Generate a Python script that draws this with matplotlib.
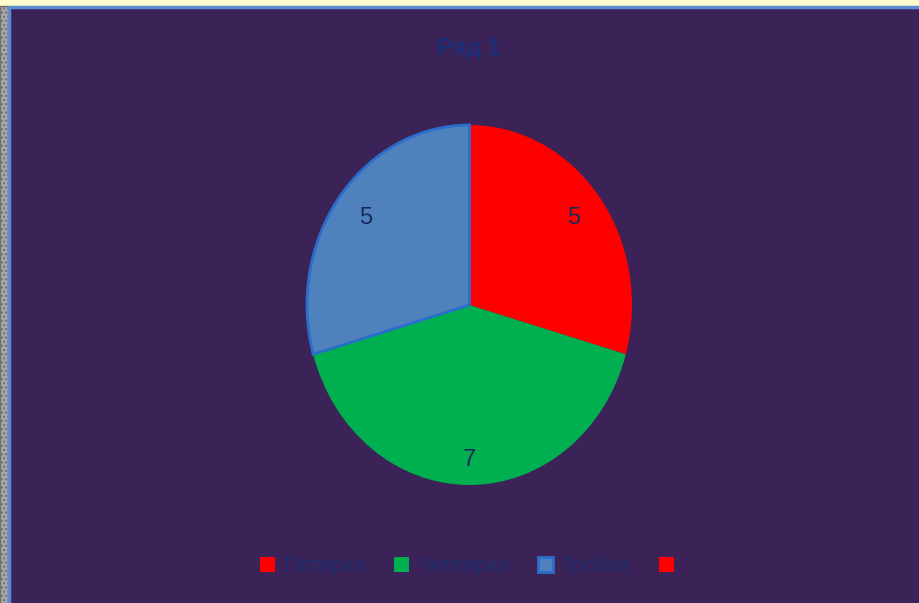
import matplotlib.pyplot as plt
from matplotlib.patches import Rectangle

categories = ['Пятёрки', 'Четвёрки', 'Тройки', '']
values = [5, 7, 5, 0]
colors = ['#ff0000', '#00b050', '#4f81bd', '#ff0000']
title = 'Ряд 1'

plt.rcParams['font.family'] = ['Liberation Sans', 'DejaVu Sans']

fig = plt.figure(figsize=(9.2, 6.03), dpi=100)
fig.patch.set_facecolor('#3b2257')

# window chrome around the chart area
fig.add_artist(Rectangle((0, 1 - 6 / 603), 1, 6 / 603, transform=fig.transFigure,
                         facecolor='#fffbcc', edgecolor='none', zorder=0))
fig.add_artist(Rectangle((0, 0), 8 / 920, 1 - 6 / 603, transform=fig.transFigure,
                         facecolor='#a8a8a8', edgecolor='#707070', hatch='....', zorder=0))
fig.add_artist(Rectangle((9 / 920, -0.01), 1.0, 1 - 7 / 603 + 0.01, transform=fig.transFigure,
                         facecolor='none', edgecolor='#5b8cd4', linewidth=2.5, zorder=1))

ax = fig.add_axes([307 / 920, 118 / 603, 325 / 920, 360 / 603])
ax.set_facecolor('none')
total = sum(values)
wedges, texts, autotexts = ax.pie(
    values, colors=colors, startangle=90, counterclock=False,
    autopct=lambda p: '' if p == 0 else f'{p * total / 100:.0f}',
    pctdistance=0.8,
    textprops={'color': '#1a2858', 'fontsize': 17},
    wedgeprops={'linewidth': 0})
wedges[2].set_edgecolor('#2a6ecb')
wedges[2].set_linewidth(2)
autotexts[1].set_position((0, -0.86))
ax.set_aspect('auto')
ax.set_xlim(-1, 1)
ax.set_ylim(-1, 1)
for w in wedges:
    w.set_clip_on(False)

fig.text(469 / 920, 1 - 48 / 603, title, ha='center', va='center',
         fontsize=17, fontweight='bold', color='#1b2f78')

leg = fig.legend(wedges, categories, loc='center', bbox_to_anchor=(471 / 920, 1 - 566 / 603),
                 ncol=4, frameon=False, fontsize=15.5, handlelength=0.7, handleheight=0.7,
                 handletextpad=0.35, columnspacing=1.35, labelcolor='#1f2f6e')
for h in leg.legend_handles:
    h.set_linewidth(0)
leg.legend_handles[2].set_edgecolor('#2a6ecb')
leg.legend_handles[2].set_linewidth(2)

fig.savefig('out.png', dpi=100, facecolor=fig.get_facecolor())
